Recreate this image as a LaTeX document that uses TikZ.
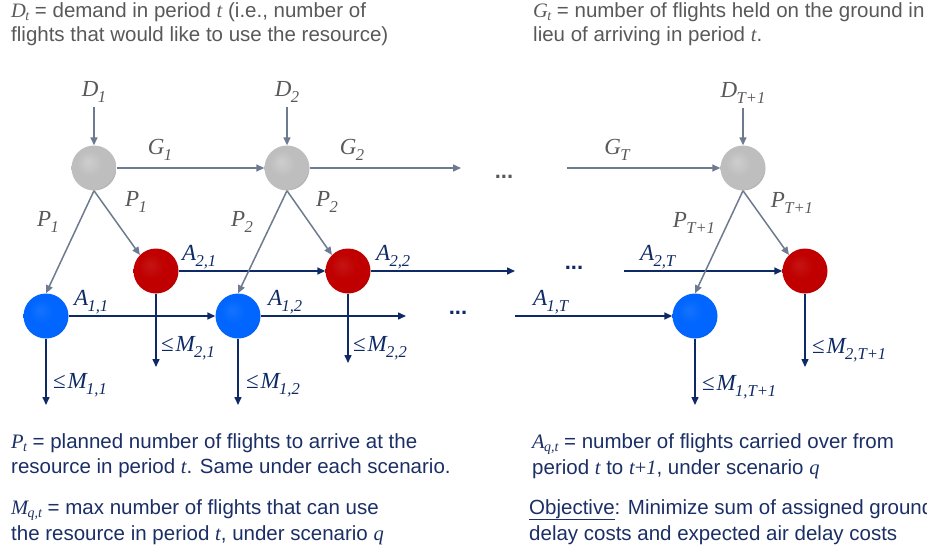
\documentclass[tikz,border=0pt]{standalone}
\usepackage{fontspec}
\setmainfont{Liberation Sans}
\newfontfamily\tms{Liberation Serif}
\usepackage{graphicx}
\usetikzlibrary{arrows.meta}
\definecolor{ballgray}{HTML}{BEBEBE}
\definecolor{ballred}{HTML}{C00000}
\definecolor{ballblue}{HTML}{0066FF}
\definecolor{arrgray}{HTML}{6D7A90}
\definecolor{labgray}{HTML}{595959}
\definecolor{navy}{HTML}{0E2A66}
\definecolor{txtnavy}{HTML}{1B2F66}
\pgfdeclareradialshading{shgray}{\pgfqpoint{-7bp}{7bp}}{color(0bp)=(ballgray!75!white); color(14bp)=(ballgray); color(27bp)=(ballgray); color(33bp)=(ballgray!55!black); color(50bp)=(ballgray!45!black)}
\pgfdeclareradialshading{shred}{\pgfqpoint{-7bp}{7bp}}{color(0bp)=(ballred!92!white); color(14bp)=(ballred); color(27bp)=(ballred); color(33bp)=(ballred!55!black); color(50bp)=(ballred!45!black)}
\pgfdeclareradialshading{shblue}{\pgfqpoint{-7bp}{7bp}}{color(0bp)=(ballblue!92!white); color(14bp)=(ballblue); color(27bp)=(ballblue); color(33bp)=(ballblue!55!black); color(50bp)=(ballblue!45!black)}
% italic serif variable with subscript
\newcommand\vv[2]{{\tms\itshape #1\kern-0.03em\raisebox{-0.28em}{\scalebox{0.72}{#2}}}}
\newcommand\tv[2]{{\tms\itshape #1\kern-0.03em\raisebox{-0.16em}{\scalebox{0.68}{#2}}}}
\newcommand\iv[1]{{\tms\itshape #1}}
\newcommand\leqm{{\tms ≤}\kern0.08em}
\tikzset{
  ballnode/.style={circle, minimum size=45pt, inner sep=0pt},
  gball/.style={ballnode, shading=shgray},
  rball/.style={ballnode, shading=shred},
  bball/.style={ballnode, shading=shblue},
  garrow/.style={draw=arrgray, line width=1.5pt, -{Triangle[length=8pt,width=7pt]}},
  narrow/.style={draw=navy, line width=1.5pt, -{Triangle[length=8pt,width=7pt]}},
  glab/.style={text=labgray, inner sep=0pt, font=\fontsize{23}{23}\selectfont},
  nlab/.style={text=navy, inner sep=0pt, font=\fontsize{23}{23}\selectfont},
  toptext/.style={text=labgray, inner sep=0pt, anchor=base west, text height=14pt, text depth=4pt, font=\fontsize{20.5}{24}\selectfont},
  bottext/.style={text=txtnavy, inner sep=0pt, anchor=base west, text height=14pt, text depth=4pt, font=\fontsize{20.5}{24}\selectfont},
  dotsg/.style={text=labgray, inner sep=0pt, anchor=base, font=\fontsize{22}{22}\selectfont\bfseries},
  dotsn/.style={text=navy, inner sep=0pt, anchor=base, font=\fontsize{22}{22}\selectfont\bfseries},
}
\begin{document}
\begin{tikzpicture}[x=1pt,y=-1pt]
\useasboundingbox (0,0) rectangle (927,555);
% text blocks
\node[toptext] (t1) at (11,17) {\tv{D}{t} = demand in period \iv{t} (i.e., number of};
\node[toptext] (t2) at (11,41) {flights that would like to use the resource)};
\node[toptext] (t3) at (533,17) {\tv{G}{t} = number of flights held on the ground in};
\node[toptext] (t4) at (533,41) {lieu of arriving in period \iv{t}.};
\node[bottext] (b1) at (11,448) {\tv{P}{t} = planned number of flights to arrive at the};
\node[bottext] (b2) at (11,473) {resource in period \iv{t}. Same under each scenario.};
\node[bottext] (b3) at (11,514) {\tv{M}{q,t} = max number of flights that can use};
\node[bottext] (b4) at (11,540) {the resource in period \iv{t}, under scenario \iv{q}};
\node[bottext] (b5) at (532,448) {\tv{A}{q,t} = number of flights carried over from};
\node[bottext] (b6) at (532,474) {period \iv{t} to \iv{t}{\tms +}\iv{1}, under scenario \iv{q}};
\node[bottext] (b7) at (529,514) {\underline{Objective}: Minimize sum of assigned ground};
\node[bottext] (b8) at (529,540) {delay costs and expected air delay costs};
% balls
\node[gball] (g1) at (94,168) {};
\node[gball] (g2) at (287,168) {};
\node[gball] (gT1) at (743,168) {};
\node[rball] (r1) at (156,271) {};
\node[rball] (r2) at (348,271) {};
\node[rball] (rT1) at (805,271) {};
\node[bball] (b11) at (46,316) {};
\node[bball] (b12) at (238,316) {};
\node[bball] (b1T1) at (695,316) {};
% labels
\node[glab] (D1) at (94,92) {\vv{D}{1}};
\node[glab] (D2) at (287,92) {\vv{D}{2}};
\node[glab] (DT1) at (743,93) {\vv{D}{T+1}};
\node[glab] (G1l) at (160,150) {\vv{G}{1}};
\node[glab] (G2l) at (352,150) {\vv{G}{2}};
\node[glab] (GTl) at (617,150) {\vv{G}{T}};
\node[glab] (P1a) at (48,222) {\vv{P}{1}};
\node[glab] (P1b) at (136,202) {\vv{P}{1}};
\node[glab] (P2a) at (242,222) {\vv{P}{2}};
\node[glab] (P2b) at (327,202) {\vv{P}{2}};
\node[glab] (PTa) at (694,223) {\vv{P}{T+1}};
\node[glab] (PTb) at (792,203) {\vv{P}{T+1}};
\node[nlab, anchor=west] (A21) at (182,257) {\vv{A}{2,1}};
\node[nlab, anchor=west] (A22) at (376,257) {\vv{A}{2,2}};
\node[nlab, anchor=west] (A2T) at (640,257) {\vv{A}{2,T}};
\node[nlab, anchor=west] (A11) at (74,302) {\vv{A}{1,1}};
\node[nlab, anchor=west] (A12) at (268,302) {\vv{A}{1,2}};
\node[nlab, anchor=west] (A1T) at (533,302) {\vv{A}{1,T}};
\node[nlab, anchor=west] (M11) at (53,385) {\leqm\vv{M}{1,1}};
\node[nlab, anchor=west] (M21) at (161,348) {\leqm\vv{M}{2,1}};
\node[nlab, anchor=west] (M12) at (246,385) {\leqm\vv{M}{1,2}};
\node[nlab, anchor=west] (M22) at (353,348) {\leqm\vv{M}{2,2}};
\node[nlab, anchor=west] (M1T) at (702,387) {\leqm\vv{M}{1,T+1}};
\node[nlab, anchor=west] (M2T) at (812,350) {\leqm\vv{M}{2,T+1}};
\node[dotsg] (dg) at (504,178) {...};
\node[dotsn] (dn1) at (458,314) {...};
\node[dotsn] (dn2) at (574,269) {...};
% coordinates for free ends
\coordinate (d1a) at (94,107);
\coordinate (d2a) at (287,107);
\coordinate (dTa) at (743,108);
\coordinate (g2e) at (461,168);
\coordinate (gTs) at (567,168);
\coordinate (b12e) at (406,316);
\coordinate (b1Ts) at (515,316);
\coordinate (r2e) at (515,271);
\coordinate (r2Ts) at (624,271);
\coordinate (m11e) at (46,405);
\coordinate (m21e) at (156,367);
\coordinate (m12e) at (238,405);
\coordinate (m22e) at (348,363);
\coordinate (m1Te) at (695,405);
\coordinate (m2Te) at (805,367);
% navy arrows
\draw[narrow] (b11.east) -- (b12.west);
\draw[narrow] (b12.east) -- (b12e);
\draw[narrow] (b1Ts) -- (b1T1.west);
\draw[narrow] (r1.east) -- (r2.west);
\draw[narrow] (r2.east) -- (r2e);
\draw[narrow] (r2Ts) -- (rT1.west);
\draw[narrow] (b11.south) -- (m11e);
\draw[narrow] (r1.south) -- (m21e);
\draw[narrow] (b12.south) -- (m12e);
\draw[narrow] (r2.south) -- (m22e);
\draw[narrow] (b1T1.south) -- (m1Te);
\draw[narrow] (rT1.south) -- (m2Te);
% gray arrows
\draw[garrow] (d1a) -- (g1.north);
\draw[garrow] (d2a) -- (g2.north);
\draw[garrow] (dTa) -- (gT1.north);
\draw[garrow] (g1.east) -- (g2.west);
\draw[garrow] (g2.east) -- (g2e);
\draw[garrow] (gTs) -- (gT1.west);
\draw[garrow] (g1.south) -- (b11.north);
\draw[garrow] (g1.south) -- (r1.135);
\draw[garrow] (g2.south) -- (b12.north);
\draw[garrow] (g2.south) -- (r2.135);
\draw[garrow] (gT1.south) -- (b1T1.north);
\draw[garrow] (gT1.south) -- (rT1.135);
\end{tikzpicture}
\end{document}
